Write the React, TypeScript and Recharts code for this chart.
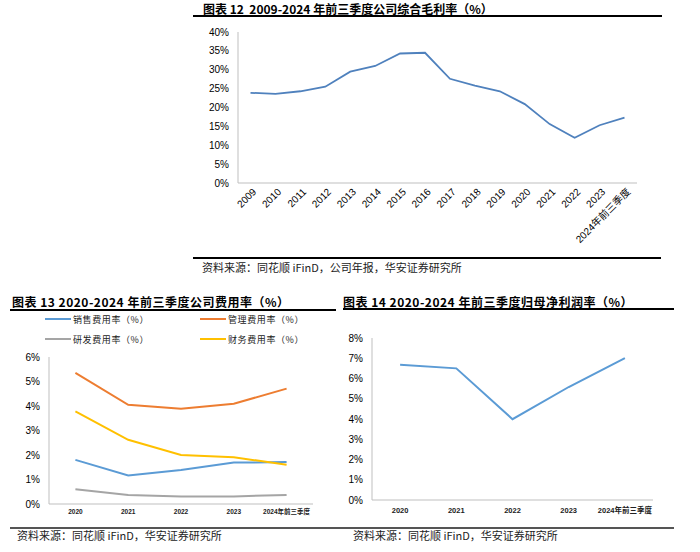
import React from 'react';
import { LineChart, Line, XAxis, YAxis } from 'recharts';

const years = ['2009', '2010', '2011', '2012', '2013', '2014', '2015', '2016', '2017', '2018', '2019', '2020', '2021', '2022', '2023', '2024年前三季度'];
const grossMargin = [23.9, 23.6, 24.3, 25.5, 29.5, 31.0, 34.3, 34.5, 27.6, 25.8, 24.3, 20.9, 15.6, 12.0, 15.3, 17.3];
const grossTicks = [0, 5, 10, 15, 20, 25, 30, 35, 40];

const expenseYears = ['2020', '2021', '2022', '2023', '2024年前三季度'];
const salesRate = [1.8, 1.16, 1.39, 1.69, 1.71];
const adminRate = [5.35, 4.05, 3.89, 4.09, 4.71];
const rdRate = [0.6, 0.37, 0.31, 0.31, 0.37];
const financeRate = [3.78, 2.62, 2.0, 1.91, 1.6];
const expenseTicks = [0, 1, 2, 3, 4, 5, 6];

const netYears = ['2020', '2021', '2022', '2023', '2024年前三季度'];
const netMargin = [6.68, 6.5, 3.99, 5.58, 7.01];
const netTicks = [0, 1, 2, 3, 4, 5, 6, 7, 8];

const expenseSeries = [
  { key: 'sales', name: '销售费用率（%）', color: '#5b9bd5', values: salesRate },
  { key: 'admin', name: '管理费用率（%）', color: '#ed7d31', values: adminRate },
  { key: 'rd', name: '研发费用率（%）', color: '#a5a5a5', values: rdRate },
  { key: 'finance', name: '财务费用率（%）', color: '#ffc000', values: financeRate },
];

const grossData = years.map((y, i) => ({ year: y, v: grossMargin[i] }));
const expenseData = expenseYears.map((y, i) => {
  const row: any = { year: y };
  expenseSeries.forEach((s) => { row[s.key] = s.values[i]; });
  return row;
});
const netData = netYears.map((y, i) => ({ year: y, v: netMargin[i] }));

const LAT = '"Liberation Sans", Arial, "Noto Sans CJK SC", sans-serif';
const CJK = '"Noto Sans CJK SC", "Liberation Sans", sans-serif';
const AXIS = '#bfbfbf';

const pct = (v: number) => `${v}%`;

const RotTick = (props: any) => {
  const { x, y, payload } = props;
  return (
    <g transform={`translate(${x + 4},${y + 7})`}>
      <text textAnchor="end" transform="rotate(-45)" fontSize={10} fill="#000" fontFamily={LAT} dy="0.35em">
        {payload.value}
      </text>
    </g>
  );
};

const makeFlatTick = (size: number, dyPx: number) => (props: any) => {
  const { x, y, payload } = props;
  return (
    <text x={x} y={y + dyPx} textAnchor="middle" fontSize={size} fontWeight="bold" fill="#222" fontFamily={LAT} dy="0.35em">
      {payload.value}
    </text>
  );
};

const SmallTick = makeFlatTick(6.5, 8);
const MidTick = makeFlatTick(7.5, 10);

const yTick = { fontSize: 10, fill: '#000', fontFamily: LAT };

function Text({ x, y, size, bold, children, color, spacing }: any) {
  return (
    <div
      style={{
        position: 'absolute',
        left: x,
        top: y - size / 2 - 1,
        fontSize: size,
        lineHeight: `${size + 2}px`,
        fontWeight: bold ? 'bold' : 'normal',
        fontFamily: CJK,
        color: color || '#000',
        whiteSpace: 'nowrap',
        letterSpacing: spacing || 0,
      }}
    >
      {children}
    </div>
  );
}

function HLine({ x1, x2, y, h, color }: any) {
  return <div style={{ position: 'absolute', left: x1, top: y - h / 2, width: x2 - x1, height: h, background: color }} />;
}

export default function App() {
  return (
    <div style={{ position: 'absolute', left: 0, top: 0, width: 700, height: 552, background: '#fff', overflow: 'hidden' }}>
      {/* Figure 12 */}
      <Text x={203} y={9} size={12} bold>图表 12&nbsp;&nbsp;2009-2024 年前三季度公司综合毛利率（%）</Text>
      <HLine x1={193} x2={662} y={16} h={1.2} color="#000" />
      <div style={{ position: 'absolute', left: 190, top: 20 }}>
        <LineChart width={460} height={240} data={grossData} margin={{ top: 12, right: 13, bottom: 0, left: 0 }}>
          <XAxis
            dataKey="year"
            interval={0}
            height={77}
            tickLine={false}
            tickSize={0}
            tickMargin={0}
            stroke={AXIS}
            padding={{ left: 12.5, right: 12.5 }}
            tick={<RotTick />}
          />
          <YAxis
            width={48}
            domain={[0, 40]}
            ticks={grossTicks}
            tickFormatter={pct}
            tickLine={false}
            tickSize={0}
            tickMargin={9}
            stroke={AXIS}
            tick={yTick}
          />
          <Line type="linear" dataKey="v" stroke="#4f81bd" strokeWidth={1.8} dot={false} isAnimationActive={false} />
        </LineChart>
      </div>
      <HLine x1={193} x2={661} y={258} h={1.2} color="#000" />
      <Text x={202} y={267} size={11} color="#222">资料来源：同花顺 iFinD，公司年报，华安证券研究所</Text>

      {/* Figure 13 */}
      <Text x={12} y={302} size={12} bold spacing={0.5}>图表 13 2020-2024 年前三季度公司费用率（%）</Text>
      <HLine x1={10} x2={336} y={310} h={1.2} color="#000" />
      {expenseSeries.map((s, i) => {
        const col = i % 2;
        const row = Math.floor(i / 2);
        const lx = col === 0 ? 45 : 200;
        const cy = row === 0 ? 319 : 339;
        return (
          <React.Fragment key={s.key}>
            <HLine x1={lx} x2={lx + 26} y={cy} h={2} color={s.color} />
            <Text x={lx + 28} y={cy} size={9} color="#222" spacing={0.6}>{s.name}</Text>
          </React.Fragment>
        );
      })}
      <div style={{ position: 'absolute', left: 0, top: 290 }}>
        <LineChart width={340} height={240} data={expenseData} margin={{ top: 67, right: 27, bottom: 0, left: 0 }}>
          <XAxis
            dataKey="year"
            interval={0}
            height={26}
            tickLine={false}
            tickSize={0}
            tickMargin={0}
            stroke={AXIS}
            padding={{ left: 26.4, right: 26.4 }}
            tick={<SmallTick />}
          />
          <YAxis
            width={49}
            domain={[0, 6]}
            ticks={expenseTicks}
            tickFormatter={pct}
            tickLine={false}
            tickSize={0}
            tickMargin={9}
            stroke={AXIS}
            tick={yTick}
          />
          {expenseSeries.map((s) => (
            <Line key={s.key} type="linear" dataKey={s.key} name={s.name} stroke={s.color} strokeWidth={2} dot={false} isAnimationActive={false} />
          ))}
        </LineChart>
      </div>
      <HLine x1={10} x2={340} y={528} h={2} color="#555" />
      <Text x={17} y={535} size={11} color="#222">资料来源：同花顺 iFinD，华安证券研究所</Text>

      {/* Figure 14 */}
      <Text x={343} y={302} size={12} bold spacing={0.5}>图表 14 2020-2024 年前三季度归母净利润率（%）</Text>
      <HLine x1={343} x2={674} y={309} h={1.2} color="#000" />
      <div style={{ position: 'absolute', left: 340, top: 290 }}>
        <LineChart width={360} height={240} data={netData} margin={{ top: 48, right: 47, bottom: 0, left: 0 }}>
          <XAxis
            dataKey="year"
            interval={0}
            height={30}
            tickLine={false}
            tickSize={0}
            tickMargin={0}
            stroke={AXIS}
            padding={{ left: 28.1, right: 28.1 }}
            tick={<MidTick />}
          />
          <YAxis
            width={32}
            domain={[0, 8]}
            ticks={netTicks}
            tickFormatter={pct}
            tickLine={false}
            tickSize={0}
            tickMargin={9}
            stroke={AXIS}
            tick={yTick}
          />
          <Line type="linear" dataKey="v" stroke="#5b9bd5" strokeWidth={2} dot={false} isAnimationActive={false} />
        </LineChart>
      </div>
      <HLine x1={340} x2={674} y={528} h={2} color="#555" />
      <Text x={353} y={535} size={11} color="#222">资料来源：同花顺 iFinD，华安证券研究所</Text>
    </div>
  );
}
